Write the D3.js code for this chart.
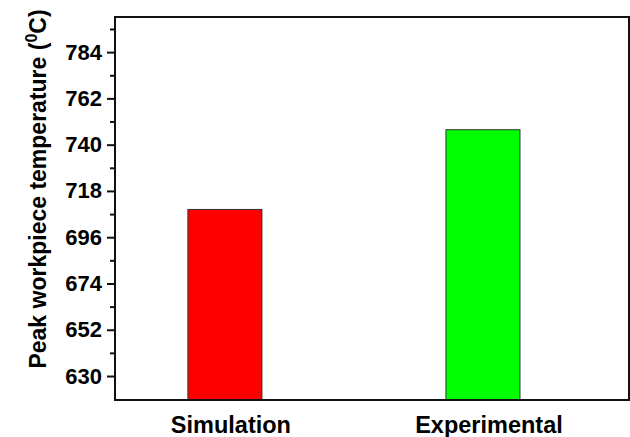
<!DOCTYPE html>
<html>
<head>
<meta charset="utf-8">
<script src="https://cdn.jsdelivr.net/npm/d3@7"></script>
<style>
  html, body { margin: 0; padding: 0; background: #fff; }
  svg { display: block; }
  text { font-family: "Liberation Sans", Arial, sans-serif; font-weight: bold; fill: #000; }
</style>
</head>
<body>
<svg id="chart" width="630" height="437"></svg>
<script>
// Peak workpiece temperature: simulation vs. experiment
const categories = ["Simulation", "Experimental"];
const values = [709.2, 747.1];
const barColors = ["#ff0000", "#00ff00"];
const yTicks = [630, 652, 674, 696, 718, 740, 762, 784];
const yMinorTicks = [641, 663, 685, 707, 729, 751, 773, 795];

const svg = d3.select("#chart");
const plot = { left: 115, right: 629, top: 17, bottom: 400 };

const x = d3.scaleLinear().domain([-0.426, 1.566]).range([plot.left, plot.right]);
const y = d3.scaleLinear().domain([618.6, 800.7]).range([plot.bottom, plot.top]);
const barHalf = 0.1435;

// bars
svg.append("g").selectAll("rect")
  .data(values)
  .join("rect")
  .attr("x", (d, i) => x(i - barHalf))
  .attr("width", (d, i) => x(i + barHalf) - x(i - barHalf))
  .attr("y", d => y(d))
  .attr("height", d => plot.bottom - y(d))
  .attr("fill", (d, i) => barColors[i])
  .attr("stroke", "#333")
  .attr("stroke-width", 1);

// frame
svg.append("rect")
  .attr("x", plot.left).attr("y", plot.top)
  .attr("width", plot.right - plot.left).attr("height", plot.bottom - plot.top)
  .attr("fill", "none").attr("stroke", "#111").attr("stroke-width", 2);

// y axis, major ticks with labels
const yAxis = d3.axisLeft(y).tickValues(yTicks).tickSize(8).tickPadding(5);
const gy = svg.append("g").attr("transform", `translate(${plot.left},0)`).call(yAxis);
gy.select(".domain").remove();
gy.selectAll(".tick line").attr("stroke", "#111").attr("stroke-width", 2);
gy.selectAll(".tick text")
  .style("font-size", "22px")
  .style("font-family", "Liberation Sans, Arial, sans-serif")
  .style("font-weight", "bold")
  .attr("fill", "#000");

// minor ticks
const gyMinor = svg.append("g").attr("transform", `translate(${plot.left},0)`)
  .call(d3.axisLeft(y).tickValues(yMinorTicks).tickSize(5).tickFormat(""));
gyMinor.select(".domain").remove();
gyMinor.selectAll(".tick line").attr("stroke", "#111").attr("stroke-width", 2);

// category labels
svg.append("g").selectAll("text")
  .data(categories)
  .join("text")
  .attr("x", (d, i) => x(i) + 6)
  .attr("y", 433)
  .attr("text-anchor", "middle")
  .style("font-size", "23.5px")
  .text(d => d);

// y axis title with superscript
const title = svg.append("text")
  .attr("transform", "translate(46,189) rotate(-90)")
  .attr("text-anchor", "middle")
  .style("font-size", "23px");
title.append("tspan").text("Peak workpiece temperature (");
title.append("tspan").attr("dy", -9).style("font-size", "16px").text("0");
title.append("tspan").attr("dy", 9).text("C)");
</script>
</body>
</html>
